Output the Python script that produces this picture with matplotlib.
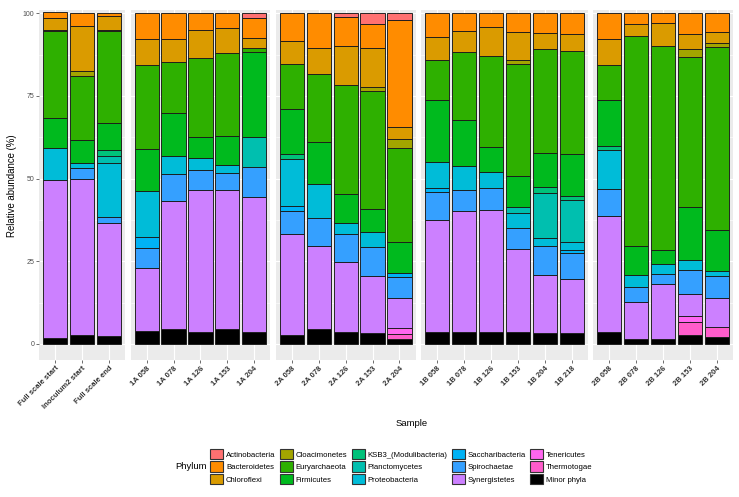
import numpy as np
import matplotlib
matplotlib.use("Agg")
import matplotlib.pyplot as plt
from matplotlib.patches import Patch

plt.rcParams['font.family'] = ['Liberation Sans', 'DejaVu Sans']

# samples, grouped into facets
samples = ["Full scale start", "Inoculum2 start", "Full scale end",
           "1A 058", "1A 078", "1A 126", "1A 153", "1A 204",
           "2A 058", "2A 078", "2A 126", "2A 153", "2A 204",
           "1B 058", "1B 078", "1B 126", "1B 153", "1B 204", "1B 218",
           "2B 058", "2B 078", "2B 126", "2B 153", "2B 204"]
group_sizes = [3, 5, 5, 6, 5]

# relative abundance (%) per phylum, one value per sample
actinobacteria = [0, 0, 0, 0, 0, 0, 0, 1.5, 0, 0, 1.1, 3.2, 2.0, 0, 0, 0, 0, 0, 0, 0, 0, 0, 0, 0]
bacteroidetes = [1.7, 3.7, 1.0, 7.9, 7.7, 4.9, 4.4, 5.9, 8.4, 10.4, 8.8, 7.2, 32.5,
                 7.2, 5.2, 4.1, 5.8, 6.1, 6.4, 7.9, 3.3, 2.8, 6.3, 5.8]
chloroflexi = [3.6, 13.7, 4.3, 7.8, 6.9, 8.7, 7.7, 3.0, 7.0, 8.1, 11.8, 11.8, 3.6,
               6.8, 6.4, 8.7, 8.3, 4.6, 4.9, 7.7, 3.5, 7.2, 4.6, 3.3]
cloacimonetes = [0.3, 1.7, 0.2, 0, 0, 0, 0, 0, 0, 0, 0, 1.4, 2.5, 0, 0, 0, 1.2, 0, 0, 0, 0, 0, 2.3, 1.2]
euryarchaeota = [26.4, 19.2, 28.0, 25.3, 15.5, 23.8, 25.0, 1.2, 13.4, 20.5, 32.8, 35.6, 28.5,
                 12.2, 20.6, 27.7, 34.0, 31.5, 31.2, 10.6, 63.5, 61.6, 45.3, 55.1]
firmicutes = [8.9, 7.1, 8.0, 12.7, 12.9, 6.5, 8.9, 25.7, 13.8, 12.7, 9.0, 6.8, 9.3,
              18.9, 14.1, 7.6, 9.2, 10.2, 12.7, 13.8, 8.8, 4.1, 16.2, 12.5]
ksb3 = [0, 0, 1.9, 0, 0, 0, 0, 0, 1.6, 0, 0, 0, 0, 0, 0, 0, 0, 1.8, 1.3, 1.4, 0, 0, 0, 0]
planctomycetes = [0, 0, 2.2, 0, 0, 0, 0, 9.3, 0, 0, 0, 0, 0, 0, 0, 0, 2.0, 13.7, 12.7, 0, 0, 0, 0, 0]
proteobacteria = [9.8, 1.5, 16.1, 14.0, 5.7, 3.4, 2.4, 0, 14.1, 10.1, 3.3, 4.8, 0,
                  7.8, 7.1, 4.8, 4.4, 2.5, 2.4, 11.8, 3.8, 3.1, 3.0, 1.6]
saccharibacteria = [0, 0, 0, 3.4, 0, 0, 0, 0, 1.6, 0, 0, 0, 1.2, 1.1, 0, 0, 0, 0, 1.0, 0, 0, 0, 0, 0]
spirochaetae = [0, 3.2, 1.8, 5.8, 8.0, 6.0, 4.9, 8.9, 6.7, 8.7, 8.3, 8.5, 6.6,
                8.4, 6.4, 6.5, 6.3, 8.8, 7.8, 8.2, 4.4, 3.1, 7.3, 6.5]
synergistetes = [47.9, 47.3, 34.2, 19.1, 38.8, 43.0, 42.2, 40.8, 30.8, 25.0, 21.4, 17.5, 8.9,
                 34.1, 36.7, 37.0, 25.3, 17.6, 16.4, 35.1, 11.1, 16.7, 6.4, 9.0]
tenericutes = [0, 0, 0, 0, 0, 0, 0, 0, 0, 0, 0, 0, 1.9, 0, 0, 0, 0, 0, 0, 0, 0, 0, 1.8, 0]
thermotogae = [0, 0, 0, 0, 0, 0, 0, 0, 0, 0, 0, 0, 1.4, 0, 0, 0, 0, 0, 0, 0, 0, 0, 4.1, 3.0]
minor_phyla = [1.7, 2.6, 2.5, 4.0, 4.5, 3.7, 4.5, 3.7, 2.6, 4.5, 3.5, 3.2, 1.6,
               3.5, 3.5, 3.6, 3.5, 3.2, 3.2, 3.5, 1.6, 1.4, 2.7, 2.0]

phyla = ["Actinobacteria", "Bacteroidetes", "Chloroflexi", "Cloacimonetes", "Euryarchaeota",
         "Firmicutes", "KSB3_(Modulibacteria)", "Planctomycetes", "Proteobacteria",
         "Saccharibacteria", "Spirochaetae", "Synergistetes", "Tenericutes", "Thermotogae",
         "Minor phyla"]
values = [actinobacteria, bacteroidetes, chloroflexi, cloacimonetes, euryarchaeota,
          firmicutes, ksb3, planctomycetes, proteobacteria, saccharibacteria,
          spirochaetae, synergistetes, tenericutes, thermotogae, minor_phyla]
colors = ["#FF7171", "#FF8C00", "#DA9B00", "#A3A500", "#2EB000",
          "#00BA1E", "#00C27A", "#00BFAF", "#00BCD8", "#00B2F5",
          "#35A0FF", "#CC80FF", "#FF66F0", "#FF5CCB", "#000000"]

W, H = 739, 497
fig = plt.figure(figsize=(W / 100, H / 100), dpi=100)

# panel layout in pixels
left, right, top, bottom = 39, 733, 10, 360
gap = 5.5
units = [n + 0.2 for n in group_sizes]
u = (right - left - gap * (len(group_sizes) - 1)) / sum(units)

start = 0
x0 = left
for gi, n in enumerate(group_sizes):
    w = units[gi] * u
    ax = fig.add_axes([x0 / W, 1 - bottom / H, w / W, (bottom - top) / H])
    x0 += w + gap

    idx = list(range(start, start + n))
    start += n
    xs = np.arange(n)

    # stack from bottom (Minor phyla) to top (Actinobacteria)
    base = np.zeros(n)
    for name, vals, col in reversed(list(zip(phyla, values, colors))):
        v = np.array([vals[i] for i in idx], dtype=float)
        keep = v > 0
        if keep.any():
            ax.bar(xs[keep], v[keep], bottom=base[keep], width=0.9, color=col,
                   edgecolor="#1a1a1a", linewidth=0.65, zorder=2)
        base += v

    ax.set_facecolor("#EBEBEB")
    ax.set_xlim(-0.6, n - 0.4)
    ax.set_ylim(-4.84, 101.0)
    ax.set_yticks([0, 25, 50, 75, 100])
    ax.set_yticks([12.5, 37.5, 62.5, 87.5], minor=True)
    ax.set_xticks(xs)
    ax.set_xticklabels([samples[i] for i in idx], rotation=45, ha="right", va="top",
                       rotation_mode="anchor", fontsize=5.5, fontweight="bold", color="#333333")
    ax.grid(which="major", color="white", linewidth=0.8, zorder=0)
    ax.grid(which="minor", axis="y", color="white", linewidth=0.4, zorder=0)
    ax.set_axisbelow(True)
    for s in ax.spines.values():
        s.set_visible(False)
    ax.tick_params(axis="both", which="major", length=2, width=0.5, color="#333333", pad=1.5)
    ax.tick_params(axis="y", which="minor", length=0)
    if gi == 0:
        ax.tick_params(axis="y", labelsize=5, labelcolor="#4D4D4D")
    else:
        ax.tick_params(axis="y", left=False, labelleft=False)

fig.text(12 / W, 1 - 186 / H, "Relative abundance (%)", rotation=90,
         ha="center", va="center", fontsize=6.9, color="black")
fig.text(412 / W, 1 - 423 / H, "Sample", ha="center", va="center", fontsize=6.8)
fig.text(175 / W, 1 - 466.5 / H, "Phylum", ha="left", va="center", fontsize=6.8)

handles = [Patch(facecolor=c, edgecolor="#333333", linewidth=0.8) for c in colors]
fig.legend(handles, phyla, ncol=5, loc="center left",
           bbox_to_anchor=(210 / W, 1 - 466.5 / H), frameon=False, fontsize=5.6,
           handlelength=1.7, handleheight=1.7, handletextpad=0.35,
           columnspacing=0.55, labelspacing=0.26, borderpad=0, borderaxespad=0)

fig.savefig("out.png", dpi=100)
